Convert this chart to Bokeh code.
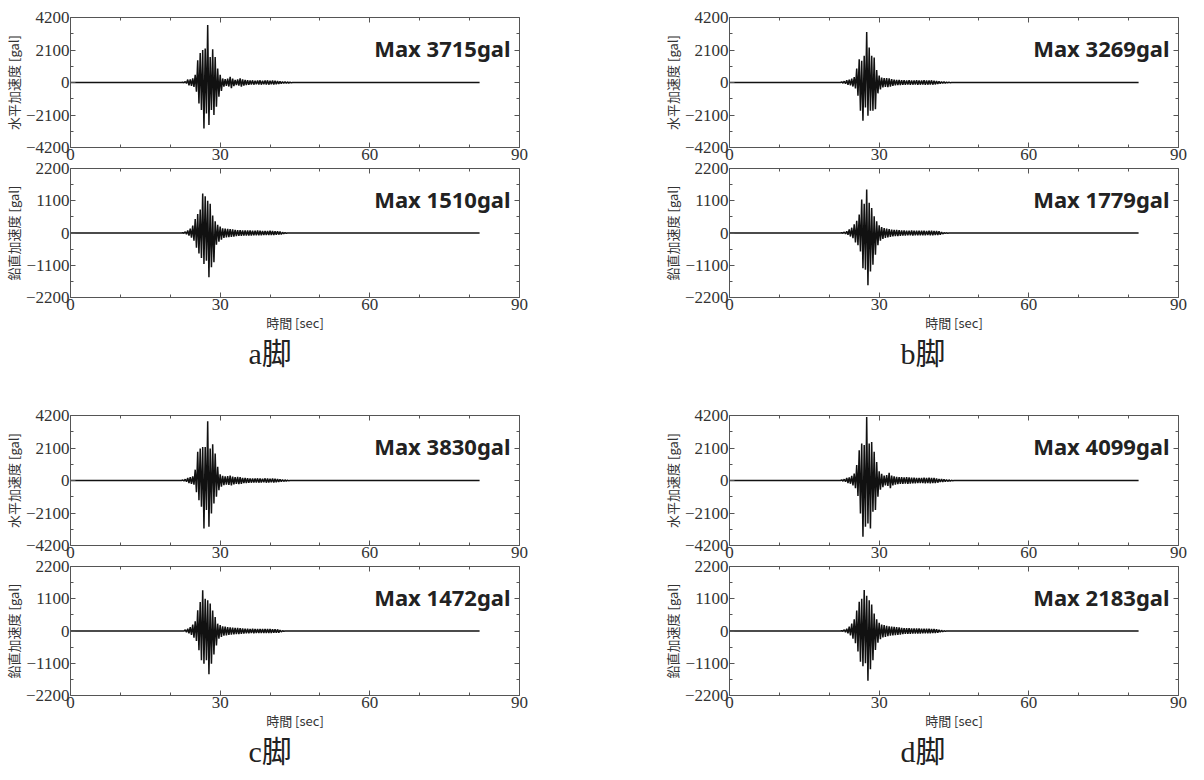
from bokeh.plotting import figure
from bokeh.layouts import column, row
from bokeh.models import Range1d, LinearAxis, FixedTicker, Label, Title
from bokeh.embed import file_html
from bokeh.resources import INLINE

# ---------------- data ----------------
# peak values every 0.5 s starting at 22.0 s: (positive peak at t, negative peak at t+0.25)
T_START = 22.0
T_STEP = 0.5
T_RECORD_END = 82.0

legs = ["a脚", "b脚", "c脚", "d脚"]
h_max = [3715, 3269, 3830, 4099]
v_max = [1510, 1779, 1472, 2183]

h_ticks = [-4200, -2100, 0, 2100, 4200]
h_minor = [-3150, -1050, 1050, 3150]
v_ticks = [-2200, -1100, 0, 1100, 2200]
v_minor = [-1650, -550, 550, 1650]
x_ticks = [0, 30, 60, 90]
x_minor = [10, 20, 40, 50, 70, 80]

h_label = "水平加速度 [gal]"
v_label = "鉛直加速度 [gal]"
t_label = "時間 [sec]"

a_h_up = [0, 20, 60, 190, 200, 260, 500, 1440, 1900, 2100,
          2190, 3715, 1650, 2150, 1650, 900, 500, 260, 220, 250,
          370, 250, 170, 200, 260, 200, 160, 150, 130, 140,
          120, 130, 140, 120, 130, 140, 120, 130, 110, 90,
          70, 60, 50, 40, 20, 0]
a_h_dn = [0, -20, -60, -190, -210, -280, -600, -1350, -1780, -2970,
          -2000, -2750, -1780, -2100, -1570, -920, -550, -260, -220, -260,
          -370, -240, -170, -200, -270, -200, -160, -150, -130, -140,
          -120, -130, -140, -120, -130, -140, -120, -130, -110, -90,
          -70, -60, -50, -40, -20, 0]
a_v_up = [0, 10, 40, 90, 150, 250, 480, 650, 800, 1350,
          1250, 1100, 1000, 600, 400, 280, 220, 160, 150, 140,
          130, 120, 110, 100, 95, 90, 90, 85, 85, 80,
          80, 85, 75, 70, 70, 70, 75, 65, 60, 60,
          50, 20, 10, 0, 0, 0]
a_v_dn = [0, -10, -40, -90, -160, -260, -500, -700, -850, -1060,
          -950, -1510, -1170, -1000, -400, -300, -230, -170, -150, -140,
          -130, -120, -110, -100, -95, -90, -90, -85, -85, -80,
          -80, -80, -75, -70, -70, -70, -70, -65, -60, -55,
          -50, -20, -10, 0, 0, 0]
b_h_up = [0, 40, 80, 150, 190, 250, 350, 900, 1500, 1400,
          1720, 3269, 2260, 1720, 1610, 800, 450, 320, 280, 290,
          260, 210, 180, 170, 160, 150, 150, 140, 150, 140,
          130, 150, 140, 130, 150, 140, 130, 140, 120, 90,
          70, 60, 50, 30, 20, 0]
b_h_dn = [0, -40, -80, -150, -190, -260, -380, -860, -1830, -2470,
          -1610, -2150, -1830, -1830, -1720, -700, -450, -320, -280, -300,
          -260, -210, -180, -170, -160, -150, -150, -140, -150, -140,
          -130, -150, -140, -130, -150, -140, -130, -140, -120, -90,
          -70, -60, -50, -30, -20, 0]
b_v_up = [0, 10, 30, 60, 120, 180, 300, 420, 630, 1140,
          1000, 1480, 1030, 850, 570, 400, 260, 200, 170, 150,
          130, 115, 110, 110, 100, 90, 85, 80, 80, 85,
          80, 75, 80, 75, 80, 70, 75, 80, 70, 65,
          60, 30, 10, 5, 0, 0]
b_v_dn = [0, -10, -30, -60, -120, -180, -320, -420, -630, -1200,
          -1250, -1779, -1310, -1080, -740, -420, -260, -200, -170, -150,
          -130, -115, -110, -110, -100, -90, -85, -80, -80, -85,
          -80, -75, -80, -75, -80, -70, -75, -80, -70, -65,
          -60, -30, -10, -5, 0, 0]
c_h_up = [0, 30, 80, 170, 210, 260, 700, 1850, 2060, 2170,
          2170, 3830, 2060, 2340, 1740, 880, 400, 300, 260, 280,
          320, 250, 220, 230, 210, 170, 160, 150, 140, 130,
          130, 140, 130, 120, 140, 130, 120, 130, 110, 90,
          80, 60, 40, 20, 0, 0]
c_h_dn = [0, -30, -80, -170, -220, -270, -750, -1270, -1700, -3100,
          -1910, -2990, -2130, -1480, -1050, -620, -400, -300, -260, -280,
          -320, -250, -220, -230, -210, -170, -160, -150, -140, -130,
          -130, -140, -130, -120, -140, -130, -120, -130, -110, -90,
          -80, -60, -40, -20, 0, 0]
c_v_up = [0, 0, 40, 80, 130, 220, 330, 710, 990, 1390,
          1100, 1050, 935, 700, 480, 250, 200, 160, 150, 130,
          120, 115, 110, 105, 100, 90, 80, 75, 70, 75,
          70, 70, 65, 70, 65, 70, 65, 60, 60, 55,
          30, 10, 0, 0, 0, 0]
c_v_dn = [0, 0, -40, -80, -130, -230, -340, -660, -1000, -1120,
          -1000, -1472, -1120, -800, -490, -260, -200, -160, -150, -130,
          -120, -115, -110, -105, -100, -90, -80, -75, -70, -75,
          -70, -70, -65, -70, -65, -70, -65, -60, -60, -55,
          -30, -10, 0, 0, 0, 0]
d_h_up = [0, 40, 80, 160, 200, 300, 450, 1000, 1960, 2390,
          2300, 4099, 2390, 2490, 1850, 1200, 600, 430, 320, 350,
          500, 320, 260, 240, 220, 210, 200, 220, 200, 190,
          180, 170, 160, 170, 180, 170, 180, 170, 160, 140,
          100, 90, 80, 60, 40, 10]
d_h_dn = [0, -40, -80, -160, -210, -320, -500, -1000, -2130, -3630,
          -2990, -2770, -3100, -2020, -1910, -1050, -600, -430, -320, -350,
          -500, -320, -260, -240, -220, -210, -200, -220, -200, -190,
          -180, -170, -160, -170, -180, -170, -180, -170, -160, -140,
          -100, -90, -80, -60, -40, -10]
d_v_up = [0, 10, 40, 80, 150, 250, 400, 700, 1000, 1100,
          1400, 1200, 1050, 900, 600, 400, 280, 220, 200, 180,
          160, 150, 140, 130, 120, 110, 100, 100, 95, 90,
          90, 85, 85, 80, 80, 80, 75, 70, 65, 60,
          40, 20, 5, 0, 0, 0]
d_v_dn = [0, -10, -40, -80, -150, -260, -420, -700, -1050, -1200,
          -1100, -1700, -1300, -1000, -650, -400, -280, -220, -200, -180,
          -160, -150, -140, -130, -120, -110, -100, -100, -95, -90,
          -90, -85, -85, -80, -80, -80, -75, -70, -65, -60,
          -40, -20, -5, 0, 0, 0]

# ---------------- styling ----------------
TXT = "#333333"
AX = "#555555"
WAVE = "#111111"
SERIF = "Liberation Serif"
JP = "Noto Sans CJK JP"
OVER = 8  # lower panel's canvas overlaps the upper one so its top tick label is not clipped


def trace(up, dn):
    assert len(up) == len(dn)
    xs, ys = [0.0], [0.0]
    for i, (u, d) in enumerate(zip(up, dn)):
        t = T_START + i * T_STEP
        xs += [t, t + T_STEP / 2]
        ys += [u, d]
    xs += [T_START + len(up) * T_STEP, T_RECORD_END]
    ys += [0, 0]
    return xs, ys


def style_axis(ax, ticks, minors, show):
    ax.ticker = FixedTicker(ticks=ticks, minor_ticks=minors)
    ax.axis_line_color = AX
    ax.major_tick_line_color = AX
    ax.minor_tick_line_color = AX
    ax.major_tick_in = 5
    ax.major_tick_out = 0
    ax.minor_tick_in = 3
    ax.minor_tick_out = 0
    if show:
        ax.major_label_text_font = SERIF
        ax.major_label_text_font_size = "17px"
        ax.major_label_text_color = TXT
        ax.major_label_standoff = 1
    else:
        ax.major_label_text_font_size = "1px"
        ax.major_label_text_color = None
        ax.major_label_standoff = 0


def panel(up, dn, lim, ticks, minors, ylabel, maxval, right_col, bottom, leg=None, last=False):
    bl, fw = 69, 450
    br = 20 if right_col else 140
    if not bottom:
        bt, fh, bb = 17, 130, 21
    else:
        bt, fh = OVER, 129
        bb = 80 if last else 101
    kw = {}
    if bottom:
        kw["margin"] = (-OVER, 0, 0, 0)
    p = figure(width=bl + fw + br, height=bt + fh + bb,
               x_range=Range1d(0, 90), y_range=Range1d(-lim, lim),
               output_backend="svg", toolbar_location=None,
               x_axis_location=None, y_axis_location=None,
               min_border_left=bl, min_border_right=br,
               min_border_top=bt, min_border_bottom=bb, **kw)
    p.grid.visible = False
    p.outline_line_color = None
    p.background_fill_color = "white"
    if bottom:
        p.border_fill_alpha = 0
    else:
        p.border_fill_color = "white"

    xb = LinearAxis()
    style_axis(xb, x_ticks, x_minor, True)
    if bottom:
        xb.axis_label = t_label
        xb.axis_label_text_font = JP
        xb.axis_label_text_font_size = "13px"
        xb.axis_label_text_font_style = "normal"
        xb.axis_label_text_color = TXT
        xb.axis_label_standoff = 0
    p.add_layout(xb, "below")
    xt = LinearAxis()
    style_axis(xt, x_ticks, x_minor, False)
    p.add_layout(xt, "above")

    yl = LinearAxis()
    style_axis(yl, ticks, minors, True)
    yl.axis_label = ylabel
    yl.axis_label_text_font = JP
    yl.axis_label_text_font_size = "13px"
    yl.axis_label_text_font_style = "normal"
    yl.axis_label_text_color = TXT
    yl.axis_label_standoff = 0
    p.add_layout(yl, "left")
    yr = LinearAxis()
    style_axis(yr, ticks, minors, False)
    p.add_layout(yr, "right")

    xs, ys = trace(up, dn)
    p.line(xs, ys, line_color=WAVE, line_width=1.5)

    p.add_layout(Label(x=88.2, y=lim * 0.524, text=f"Max {maxval}gal",
                       text_align="right", text_baseline="alphabetic",
                       text_font="Noto Sans", text_font_style="bold",
                       text_font_size="22px", text_color="#222222"))
    if bottom and leg:
        off = 171 if right_col else 178
        p.add_layout(Title(text=leg, align="left", offset=off,
                           text_font="Liberation Serif, Noto Sans CJK JP",
                           text_font_size="30px", text_font_style="normal",
                           text_color="#222222", standoff=0), "below")
    return p


groups = [(a_h_up, a_h_dn, a_v_up, a_v_dn), (b_h_up, b_h_dn, b_v_up, b_v_dn),
          (c_h_up, c_h_dn, c_v_up, c_v_dn), (d_h_up, d_h_dn, d_v_up, d_v_dn)]

figs = []
for i, (hu, hd, vu, vd) in enumerate(groups):
    rc = (i % 2 == 1)
    last = i >= 2
    ph = panel(hu, hd, 4200, h_ticks, h_minor, h_label, h_max[i], rc, False)
    pv = panel(vu, vd, 2200, v_ticks, v_minor, v_label, v_max[i], rc, True, legs[i], last)
    figs.append((ph, pv))

layout = column(
    row(figs[0][0], figs[1][0]),
    row(figs[0][1], figs[1][1]),
    row(figs[2][0], figs[3][0]),
    row(figs[2][1], figs[3][1]),
)

open("out.html", "w").write(file_html(layout, INLINE))
